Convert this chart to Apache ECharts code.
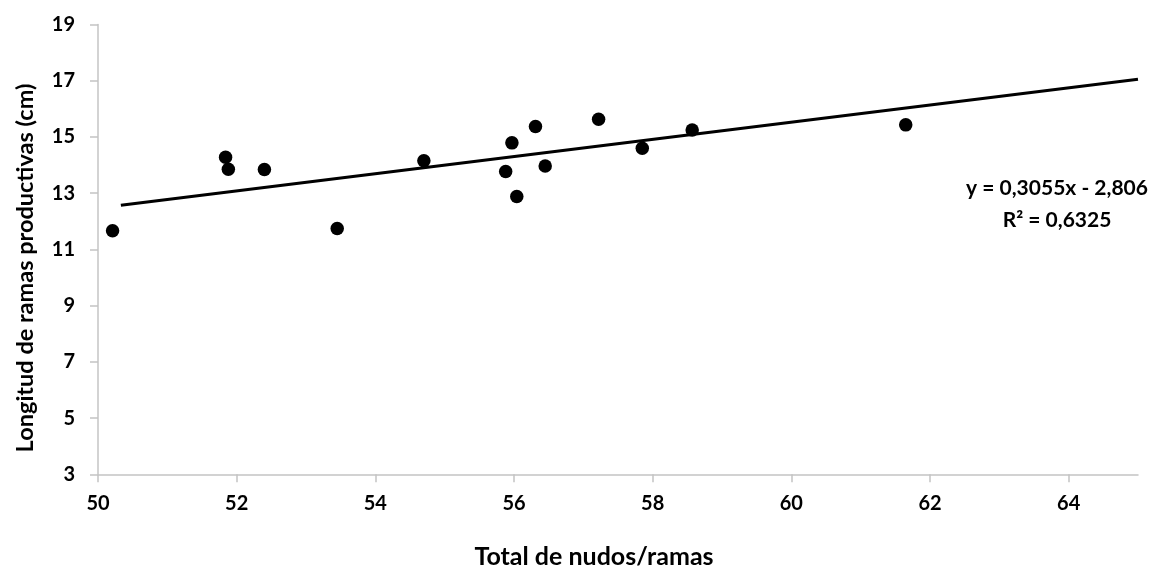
<!DOCTYPE html>
<html>
<head>
<meta charset="utf-8">
<script src="https://cdn.jsdelivr.net/npm/echarts@6/dist/echarts.min.js"></script>
<style>
  html, body { margin: 0; padding: 0; background: #ffffff; }
  #chart { width: 1155px; height: 567px; }
</style>
</head>
<body>
<div id="chart"></div>
<script>
// ---- data ----
var xValues = [50.21, 51.84, 51.88, 52.40, 53.45, 54.70, 55.97, 55.88, 56.04, 56.31, 56.45, 57.22, 57.85, 58.57, 61.65];
var yValues = [11.66, 14.28, 13.85, 13.84, 11.74, 14.15, 14.79, 13.77, 12.88, 15.37, 13.97, 15.63, 14.60, 15.25, 15.43];
var xTicks = [50, 52, 54, 56, 58, 60, 62, 64];
var yTicks = [3, 5, 7, 9, 11, 13, 15, 17, 19];
var trendSlope = 0.3055;
var trendIntercept = -2.806;
var trendRange = [50.33, 65];
var equationText = 'y = 0,3055x - 2,806';
var r2Text = 'R\u00B2 = 0,6325';
var xTitle = 'Total de nudos/ramas';
var yTitle = 'Longitud de ramas productivas (cm)';

var points = xValues.map(function (x, i) { return [x, yValues[i]]; });
var trend = trendRange.map(function (x) { return [x, trendSlope * x + trendIntercept]; });

var FONT = 'Lato, "Noto Sans", sans-serif';
var GRAY = '#c4c4c4';

var chart = echarts.init(document.getElementById('chart'), null, { renderer: 'canvas' });
chart.setOption({
  animation: false,
  backgroundColor: '#ffffff',
  grid: { left: 98, right: 17, top: 24.5, bottom: 92.7, containLabel: false },
  xAxis: {
    type: 'value', min: 50, max: 65,
    axisLine: { show: true, lineStyle: { color: GRAY, width: 1.5 } },
    axisTick: { show: true, length: 8, lineStyle: { color: GRAY, width: 1.5 }, customValues: xTicks },
    axisLabel: { customValues: xTicks, color: '#000', fontFamily: FONT, fontWeight: 'bold', fontSize: 20, margin: 19 },
    splitLine: { show: false }
  },
  yAxis: {
    type: 'value', min: 3, max: 19,
    axisLine: { show: true, lineStyle: { color: GRAY, width: 1.5 } },
    axisTick: { show: true, length: 8, lineStyle: { color: GRAY, width: 1.5 }, customValues: yTicks },
    axisLabel: { customValues: yTicks, color: '#000', fontFamily: FONT, fontWeight: 'bold', fontSize: 20, margin: 23 },
    splitLine: { show: false }
  },
  series: [
    {
      type: 'line', data: trend, showSymbol: false, symbol: 'none',
      lineStyle: { color: '#000', width: 3.2 }, z: 2
    },
    {
      type: 'scatter', data: points, symbol: 'circle', symbolSize: 13.5,
      itemStyle: { color: '#000', opacity: 1 }, z: 3
    }
  ],
  graphic: [
    {
      type: 'text', x: 594, y: 557,
      style: { text: xTitle, x: 0, y: 0, align: 'center', verticalAlign: 'middle',
               font: 'bold 25px ' + FONT, fill: '#000' }
    },
    {
      type: 'text', x: 25.7, y: 268, rotation: Math.PI / 2,
      style: { text: yTitle, x: 0, y: 0, align: 'center', verticalAlign: 'middle',
               font: 'bold 23.5px ' + FONT, fill: '#000' }
    },
    {
      type: 'text', x: 1057, y: 188,
      style: { text: equationText, x: 0, y: 0, align: 'center', verticalAlign: 'middle',
               font: 'bold 21px ' + FONT, fill: '#000' }
    },
    {
      type: 'text', x: 1057, y: 220,
      style: { text: r2Text, x: 0, y: 0, align: 'center', verticalAlign: 'middle',
               font: 'bold 21px ' + FONT, fill: '#000' }
    }
  ]
});
</script>
</body>
</html>
